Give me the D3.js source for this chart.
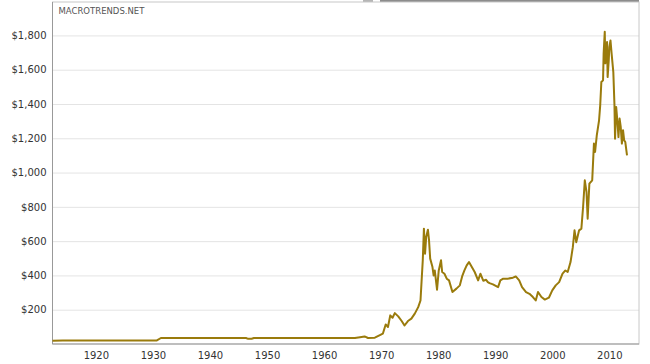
<!DOCTYPE html>
<html>
<head>
<meta charset="utf-8">
<script src="https://cdn.jsdelivr.net/npm/d3@7"></script>
<style>
  body { margin: 0; background: #fff; }
  text { font-family: "DejaVu Sans", Verdana, sans-serif; }
</style>
</head>
<body>
<div id="chart"></div>
<script>
//data (years as placed on the chart's own axis)
const years = [
  1912.4, 1914.2, 1930.7, 1931.4, 1946.3, 1946.6, 1947.3, 1947.7, 1965.4, 1966.3,
  1967.1, 1967.7, 1968.9, 1969.7, 1970.3, 1970.8, 1971.2, 1971.6, 1972.0, 1972.4,
  1973.0, 1973.6, 1974.1, 1974.7, 1975.3, 1975.9, 1976.5, 1976.9, 1977.1, 1977.3,
  1977.5, 1977.7, 1977.9, 1978.2, 1978.4, 1978.6, 1979.0, 1979.2, 1979.4, 1979.8,
  1980.1, 1980.5, 1980.7, 1981.1, 1981.5, 1981.9, 1982.5, 1983.2, 1983.8, 1984.2,
  1984.6, 1985.0, 1985.4, 1985.9, 1986.4, 1987.0, 1987.4, 1987.9, 1988.4, 1988.7,
  1989.0, 1989.6, 1990.5, 1990.9, 1991.4, 1992.2, 1993.1, 1993.6, 1994.2, 1994.7,
  1995.4, 1996.0, 1996.6, 1997.1, 1997.5, 1998.1, 1998.7, 1999.4, 2000.0, 2000.6,
  2001.2, 2001.8, 2002.3, 2002.7, 2003.2, 2003.6, 2003.9, 2004.2, 2004.7, 2005.1,
  2005.4, 2005.7, 2006.0, 2006.2, 2006.5, 2007.0, 2007.3, 2007.5, 2007.8, 2008.2,
  2008.4, 2008.6, 2008.9, 2009.0, 2009.2, 2009.3, 2009.6, 2009.7, 2009.9, 2010.0,
  2010.2, 2010.4, 2010.7, 2010.9, 2011.0, 2011.2, 2011.4, 2011.6, 2011.8, 2012.0,
  2012.2, 2012.4, 2012.6, 2012.8, 2013.1
]
const prices = [
  19, 20.67, 20.67, 35, 35, 31, 31, 35, 35, 40,
  44, 35, 37, 50, 60, 114, 99, 167, 153, 180,
  161, 134, 108, 134, 148, 177, 215, 254, 371, 488,
  673, 527, 624, 667, 604, 498, 449, 400, 429, 317,
  429, 488, 420, 410, 381, 371, 303, 323, 342, 394,
  429, 459, 478, 449, 420, 371, 410, 369, 375, 361,
  355, 348, 332, 371, 381, 381, 387, 394, 371, 332,
  303, 293, 274, 254, 303, 274, 259, 270, 313, 342,
  361, 410, 429, 420, 478, 565, 663, 594, 663, 673,
  799, 955, 887, 731, 935, 955, 1169, 1120, 1217, 1305,
  1392, 1528, 1538, 1694, 1822, 1637, 1761, 1557, 1655, 1733,
  1771, 1694, 1586, 1392, 1198, 1382, 1305, 1207, 1315, 1266,
  1169, 1247, 1188, 1178, 1101
]
const yTicks = [200, 400, 600, 800, 1000, 1200, 1400, 1600, 1800]
const xTicks = [1920, 1930, 1940, 1950, 1960, 1970, 1980, 1990, 2000, 2010]

const dataset = years.map((y, i) => ({ year: y, price: prices[i] }))

//dimensions
let dimensions = {
  width: 650,
  height: 364,
  margin: { top: 2, right: 11, bottom: 20, left: 52.5 }
}
dimensions.boundedWidth = dimensions.width - dimensions.margin.left - dimensions.margin.right
dimensions.boundedHeight = dimensions.height - dimensions.margin.top - dimensions.margin.bottom

const svg = d3.select('#chart')
  .append('svg')
  .attr('width', dimensions.width)
  .attr('height', dimensions.height)

// the little scrollbar strip along the top edge
svg.append('rect').attr('x', 363).attr('y', 0).attr('width', 10).attr('height', 2).attr('fill', '#b5b5b5')
svg.append('rect').attr('x', 380).attr('y', 0).attr('width', 259).attr('height', 2).attr('fill', '#8c8c8c')

const bounds = svg.append('g')
  .attr('transform', `translate(${dimensions.margin.left},${dimensions.margin.top})`)

//scales
const xScale = d3.scaleLinear()
  .domain([1912.4, 2015.2])
  .range([0, dimensions.boundedWidth])

const yScale = d3.scaleLinear()
  .domain([0, 1995])
  .range([dimensions.boundedHeight, 0])

//gridlines + y labels
const yAxis = bounds.append('g')
  .call(d3.axisLeft(yScale)
    .tickValues(yTicks)
    .tickSize(-dimensions.boundedWidth)
    .tickPadding(6)
    .tickFormat(d => '$' + d3.format(',')(d)))
yAxis.select('.domain').remove()
yAxis.selectAll('line').attr('stroke', '#e4e4e4')
yAxis.selectAll('text')
  .attr('fill', '#333')
  .attr('font-size', 10)
  .attr('font-family', '"DejaVu Sans", Verdana, sans-serif')

//x labels
const xAxis = bounds.append('g')
  .attr('transform', `translate(0,${dimensions.boundedHeight})`)
  .call(d3.axisBottom(xScale)
    .tickValues(xTicks)
    .tickSize(0)
    .tickPadding(8)
    .tickFormat(d3.format('d')))
xAxis.select('.domain').remove()
xAxis.selectAll('text')
  .attr('fill', '#333')
  .attr('font-size', 10)
  .attr('font-family', '"DejaVu Sans", Verdana, sans-serif')

//frame
bounds.append('rect')
  .attr('width', dimensions.boundedWidth)
  .attr('height', dimensions.boundedHeight)
  .attr('fill', 'none')
  .attr('stroke', '#c8c8c8')
bounds.append('path')
  .attr('d', `M0,0V${dimensions.boundedHeight}H${dimensions.boundedWidth}`)
  .attr('fill', 'none')
  .attr('stroke', '#999')

//line
const line = d3.line()
  .x(d => xScale(d.year))
  .y(d => yScale(d.price))

bounds.append('path')
  .datum(dataset)
  .attr('d', line)
  .attr('fill', 'none')
  .attr('stroke', '#9a7b0c')
  .attr('stroke-width', 2)
  .attr('stroke-linejoin', 'round')

//watermark
bounds.append('text')
  .attr('x', 6)
  .attr('y', 12)
  .attr('fill', '#555')
  .attr('font-size', 8.5)
  .text('MACROTRENDS.NET')
</script>
</body>
</html>
